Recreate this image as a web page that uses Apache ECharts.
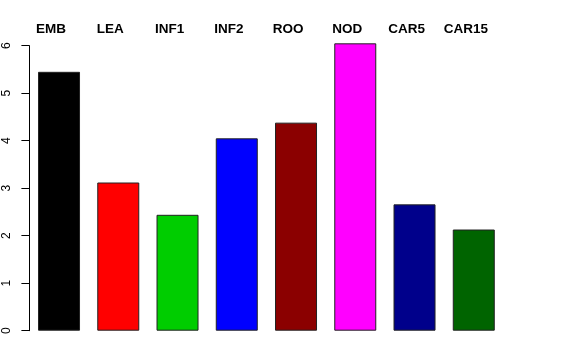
<!DOCTYPE html>
<html><head><meta charset="utf-8">
<script src="https://cdn.jsdelivr.net/npm/echarts@6/dist/echarts.min.js"></script>
<style>html,body{margin:0;padding:0;background:#fff}#c{width:576px;height:360px}</style>
</head><body><div id="c"></div>
<script>
var categories = ['EMB','LEA','INF1','INF2','ROO','NOD','CAR5','CAR15'];
var values = [5.45, 3.12, 2.44, 4.05, 4.38, 6.05, 2.66, 2.13];
var colors = ['#000000','#ff0000','#00cd00','#0000ff','#8b0000','#ff00ff','#00008b','#006400'];
var yTicks = [0,1,2,3,4,5,6];

var chart = echarts.init(document.getElementById('c'), null, {renderer:'canvas'});
chart.setOption({
  animation: false,
  backgroundColor: '#fff',
  grid: {left: 29.4, width: 474, top: 45.7, bottom: 29.3, containLabel: false},
  xAxis: [{
    type: 'category', data: categories, position: 'bottom',
    axisLine: {show: false}, axisTick: {show: false}, axisLabel: {show: false}
  }, {
    type: 'category', data: categories, position: 'top',
    axisLine: {show: false}, axisTick: {show: false},
    axisLabel: {show: true, fontFamily: 'Liberation Sans, Arial, sans-serif', fontWeight: 'bold',
      fontSize: 13.5, color: '#000', margin: 9, padding: [0, 16, 0, 0]}
  }],
  yAxis: {
    type: 'value', min: yTicks[0], max: yTicks[yTicks.length-1], interval: 1,
    splitLine: {show: false},
    axisLine: {show: true, lineStyle: {color: '#000', width: 1}},
    axisTick: {show: true, length: 8, lineStyle: {color: '#000', width: 1}},
    axisLabel: {rotate: 90, margin: 17, fontFamily: 'Liberation Sans, Arial, sans-serif', fontSize: 12, color: '#000'}
  },
  series: [{
    type: 'bar', xAxisIndex: 0, clip: false, barWidth: 42,
    data: values.map(function(v, i){ return {value: v, itemStyle: {color: colors[i]}}; }),
    itemStyle: {borderColor: '#222', borderWidth: 1}
  }]
});
</script></body></html>
